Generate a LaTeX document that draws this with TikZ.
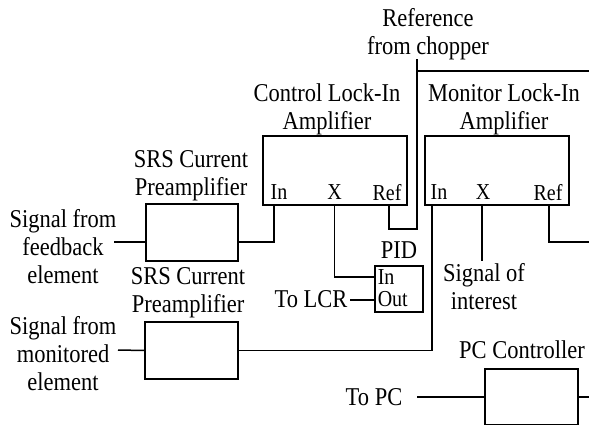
\documentclass[tikz,border=0pt]{standalone}
\usepackage{graphicx}
\usepackage{fontspec}
\setmainfont{Liberation Serif}
\usetikzlibrary{positioning,calc}
\newcommand{\st}[1]{\scalebox{1}[1.14]{\begin{tabular}{@{}c@{}}#1\end{tabular}}}
\newcommand{\stl}[1]{\scalebox{1}[1.14]{\begin{tabular}{@{}l@{}}#1\end{tabular}}}
\begin{document}
\begin{tikzpicture}[x=1pt,y=-1pt,line width=1.5pt,every node/.style={font=\fontsize{22.5}{24.3}\selectfont,align=center,inner sep=2pt},
  blk/.style={draw,line width=1.6pt,inner sep=0pt},
  port/.style={font=\fontsize{20}{17.6}\selectfont,inner sep=0pt}]
\useasboundingbox (0,0) rectangle (589,425);
\node (ref) at (428,35) {\st{Reference\\from chopper}};
\node (ctrlT) at (327,110) {\st{Control Lock-In\\Amplifier}};
\node (monT) at (504,110) {\st{Monitor Lock-In\\Amplifier}};
\node (srsA) at (191,176) {\st{SRS Current\\Preamplifier}};
\node (srsB) at (188,293) {\st{SRS Current\\Preamplifier}};
\node (fb) at (63,250) {\st{Signal from\\feedback\\element}};
\node (mel) at (63,357) {\st{Signal from\\monitored\\element}};
\node (pidT) at (399,253) {\st{PID}};
\node (lcr) at (311,302) {\st{To LCR}};
\node (soi) at (484,290) {\st{Signal of\\interest}};
\node (pcT) at (522,353) {\st{PC Controller}};
\node (topc) at (374,400) {\st{To PC}};
\node[blk,minimum width=144pt,minimum height=69pt] (ctrl) at (335,170.5) {};
\node[blk,minimum width=144pt,minimum height=69pt] (mon) at (497,170.5) {};
\node[blk,minimum width=92pt,minimum height=57pt] (preA) at (192,232.5) {};
\node[blk,minimum width=93pt,minimum height=57pt] (preB) at (191.5,350.5) {};
\node[blk,minimum width=48pt,minimum height=46pt] (pid) at (399,289) {};
\node[blk,minimum width=93pt,minimum height=56pt] (pc) at (531.5,397) {};
\node[port] (cInL) at (279,195) {\st{In}};
\node[port] (cXL) at (334.6,195) {\st{X}};
\node[port] (cRefL) at (387,195) {\st{Ref}};
\node[port] (mInL) at (439,195) {\st{In}};
\node[port] (mXL) at (483,195) {\st{X}};
\node[port] (mRefL) at (548,195) {\st{Ref}};
\node[port,anchor=west] (pidP) at (377,291) {\stl{In\\Out}};
\coordinate (cIn) at (274,205);
\coordinate (cX) at (334.6,205);
\coordinate (cRef) at (389,205);
\coordinate (mIn) at (432,205);
\coordinate (mX) at (482,205);
\coordinate (mRef) at (549,205);
\coordinate (pIn) at (375,277);
\coordinate (pOut) at (375,300);
\coordinate (refTop) at (417,59);
\coordinate (refBr) at (417,71);
\coordinate (fbOut) at (114,242);
\coordinate (melOut) at (118,350);
\coordinate (pcIn) at (417,397);
\coordinate (edge) at (589,0);
\draw (fbOut) -- (fbOut -| preA.west);
\draw (preA.east |- fbOut) -| (cIn);
\draw (cX) |- (pIn);
\draw (pOut -| lcr.east) -- (pOut);
\draw (cRef) -- ++(0,24) -| (refTop);
\draw (refBr) -- (refBr -| edge);
\draw (melOut) -- (preB.west);
\draw (mIn) |- (preB.east);
\draw (mX) -- ++(0,56);
\draw (mRef) |- (edge |- 0,242);
\draw (pcIn) -- (pc.west);
\draw (pc.east) -- (pc.east -| edge);
\end{tikzpicture}
\end{document}
